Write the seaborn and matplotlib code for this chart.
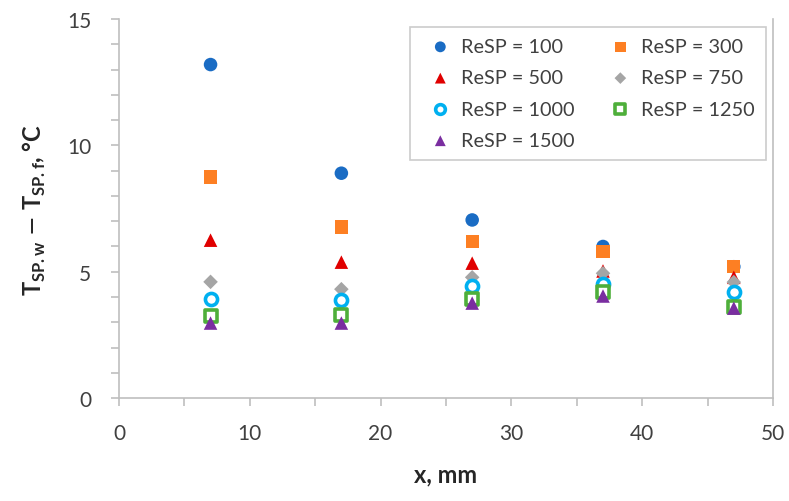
import matplotlib
matplotlib.use("Agg")
import matplotlib.pyplot as plt
import seaborn as sns
import pandas as pd
from matplotlib.ticker import MultipleLocator

x_mm = [7, 17, 27, 37, 47]
re_labels = ["ReSP = 100", "ReSP = 300", "ReSP = 500", "ReSP = 750",
             "ReSP = 1000", "ReSP = 1250", "ReSP = 1500"]
re100 = [13.2, 8.9, 7.05, 6.0, 5.2]
re300 = [8.75, 6.77, 6.2, 5.8, 5.22]
re500 = [6.25, 5.38, 5.34, 5.03, 4.78]
re750 = [4.6, 4.31, 4.78, 4.94, 4.59]
re1000 = [3.92, 3.88, 4.43, 4.5, 4.19]
re1250 = [3.24, 3.28, 3.92, 4.19, 3.6]
re1500 = [2.97, 2.97, 3.76, 4.04, 3.56]
series = [re100, re300, re500, re750, re1000, re1250, re1500]

colors = ["#1a6cc4", "#fd7f23", "#e00000", "#a5a5a5", "#00b0f0", "#4eaf3a", "#7a2ea0"]
markers = ["o", "s", "^", "D", "o", "s", "^"]
filled = [True, True, True, True, False, False, True]
sizes = [95, 90, 95, 55, 95, 95, 95]

rows = []
for lab, vals in zip(re_labels, series):
    for xv, yv in zip(x_mm, vals):
        rows.append({"x": xv, "y": yv, "series": lab})
df = pd.DataFrame(rows)

sns.set_style("white")
plt.rcParams['font.family'] = ['Lato', 'DejaVu Sans']

fig = plt.figure(figsize=(7.89, 5.02), dpi=100)
ax = fig.add_axes([0.1508, 0.205, 0.829, 0.755])

for lab, c, m, f, s in zip(re_labels, colors, markers, filled, sizes):
    sub = df[df["series"] == lab]
    if f:
        sns.scatterplot(data=sub, x="x", y="y", ax=ax, marker=m, color=c,
                        s=s, edgecolor="none", label=lab, zorder=3)
    else:
        sns.scatterplot(data=sub, x="x", y="y", ax=ax, marker=m,
                        facecolor="white", edgecolor=c, linewidth=2.6,
                        s=s * 0.8, label=lab, zorder=3)

ax.set_xlim(0, 50)
ax.set_ylim(0, 15)
ax.xaxis.set_major_locator(MultipleLocator(10))
ax.xaxis.set_minor_locator(MultipleLocator(5))
ax.yaxis.set_major_locator(MultipleLocator(5))
ax.yaxis.set_minor_locator(MultipleLocator(1))
gray = "#bfbfbf"
for side in ["left", "bottom", "right"]:
    ax.spines[side].set_color(gray)
    ax.spines[side].set_linewidth(1.2)
ax.spines["top"].set_visible(False)
ax.tick_params(which="both", direction="out", color=gray, width=1.2, length=6,
               labelsize=15, labelcolor="#404040", bottom=True, left=True)
ax.tick_params(axis="x", pad=12)
ax.tick_params(axis="y", pad=14)
ax.set_xlabel("x, mm", fontsize=17, fontweight="bold", labelpad=14)
ax.set_ylabel(r"T$_{\mathregular{SP.w}}$ $-$ T$_{\mathregular{SP.f}}$, °C",
              fontsize=17, fontweight="bold", labelpad=14)

handles, labels = ax.get_legend_handles_labels()
order = [0, 2, 4, 6, 1, 3, 5]
handles = [handles[i] for i in order]
labels = [labels[i] for i in order]
leg = ax.legend(handles, labels, ncol=2, loc="upper right",
                bbox_to_anchor=(1.004, 1.005),
                fontsize=14.3, frameon=True, fancybox=False, edgecolor=gray,
                handletextpad=0.05, columnspacing=1.3, labelspacing=0.72,
                borderpad=0.55, markerscale=0.8)
leg.get_frame().set_linewidth(1.2)
for t in leg.get_texts():
    t.set_color("#404040")

fig.savefig("out.png", dpi=100)
